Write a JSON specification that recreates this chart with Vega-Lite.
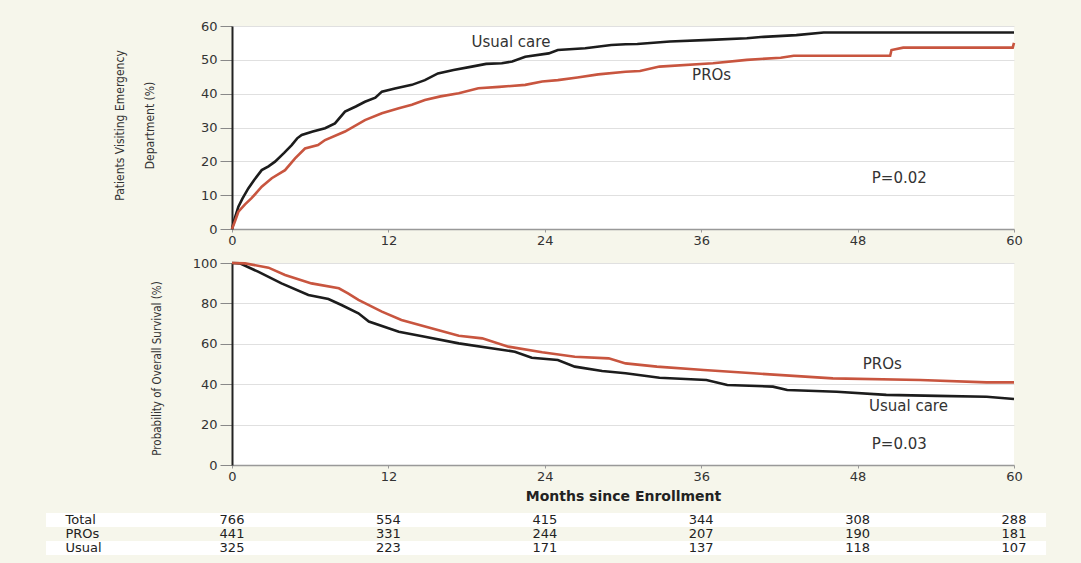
{
  "$schema": "https://vega.github.io/schema/vega-lite/v6.json",
  "background": "#f6f6eb",
  "padding": {"left": 46, "top": 20, "right": 35, "bottom": 8},
  "bounds": "flush",
  "spacing": 34,
  "config": {
    "view": {"fill": "white", "stroke": null},
    "axis": {"labelFont": "DejaVu Sans", "labelFontSize": 13, "labelColor": "#333", "labelOverlap": false, "titleFont": "Liberation Sans Narrow, DejaVu Sans Condensed, sans-serif", "titleColor": "#333", "titleFontWeight": "normal"},
    "text": {"font": "DejaVu Sans"}
  },
  "datasets": {
    "ed": [
      {"g": "Usual care", "m": 0, "v": 0}, {"g": "Usual care", "m": 0.2, "v": 3}, {"g": "Usual care", "m": 0.49, "v": 6.6}, {"g": "Usual care", "m": 0.8, "v": 9}, {"g": "Usual care", "m": 1.25, "v": 12}, {"g": "Usual care", "m": 1.7, "v": 14.5}, {"g": "Usual care", "m": 2.28, "v": 17.4}, {"g": "Usual care", "m": 2.8, "v": 18.5}, {"g": "Usual care", "m": 3.3, "v": 19.9}, {"g": "Usual care", "m": 4.0, "v": 22.5}, {"g": "Usual care", "m": 4.58, "v": 24.8}, {"g": "Usual care", "m": 5.0, "v": 26.8}, {"g": "Usual care", "m": 5.35, "v": 27.8}, {"g": "Usual care", "m": 6.2, "v": 28.8}, {"g": "Usual care", "m": 7.14, "v": 29.8}, {"g": "Usual care", "m": 7.9, "v": 31.2}, {"g": "Usual care", "m": 8.67, "v": 34.7}, {"g": "Usual care", "m": 9.5, "v": 36.2}, {"g": "Usual care", "m": 10.2, "v": 37.6}, {"g": "Usual care", "m": 11.0, "v": 38.8}, {"g": "Usual care", "m": 11.5, "v": 40.6}, {"g": "Usual care", "m": 12.5, "v": 41.5}, {"g": "Usual care", "m": 13.8, "v": 42.6}, {"g": "Usual care", "m": 14.8, "v": 44.0}, {"g": "Usual care", "m": 15.8, "v": 46.0}, {"g": "Usual care", "m": 17.0, "v": 47.0}, {"g": "Usual care", "m": 18.4, "v": 48.0}, {"g": "Usual care", "m": 19.5, "v": 48.8}, {"g": "Usual care", "m": 20.7, "v": 49.0}, {"g": "Usual care", "m": 21.5, "v": 49.5}, {"g": "Usual care", "m": 22.5, "v": 50.9}, {"g": "Usual care", "m": 24.3, "v": 51.9}, {"g": "Usual care", "m": 25.0, "v": 52.9}, {"g": "Usual care", "m": 27.1, "v": 53.4}, {"g": "Usual care", "m": 29.1, "v": 54.4}, {"g": "Usual care", "m": 30.2, "v": 54.6}, {"g": "Usual care", "m": 31.1, "v": 54.7}, {"g": "Usual care", "m": 33.6, "v": 55.4}, {"g": "Usual care", "m": 36.7, "v": 55.9}, {"g": "Usual care", "m": 39.5, "v": 56.4}, {"g": "Usual care", "m": 40.8, "v": 56.8}, {"g": "Usual care", "m": 43.3, "v": 57.3}, {"g": "Usual care", "m": 45.4, "v": 58.1}, {"g": "Usual care", "m": 60, "v": 58.1},
      {"g": "PROs", "m": 0, "v": 0}, {"g": "PROs", "m": 0.2, "v": 2}, {"g": "PROs", "m": 0.49, "v": 5.1}, {"g": "PROs", "m": 1.0, "v": 7.3}, {"g": "PROs", "m": 1.5, "v": 9.1}, {"g": "PROs", "m": 2.28, "v": 12.5}, {"g": "PROs", "m": 3.05, "v": 15.0}, {"g": "PROs", "m": 4.07, "v": 17.4}, {"g": "PROs", "m": 4.84, "v": 20.9}, {"g": "PROs", "m": 5.6, "v": 23.8}, {"g": "PROs", "m": 6.6, "v": 24.8}, {"g": "PROs", "m": 7.14, "v": 26.3}, {"g": "PROs", "m": 8.67, "v": 28.8}, {"g": "PROs", "m": 10.2, "v": 32.2}, {"g": "PROs", "m": 11.5, "v": 34.2}, {"g": "PROs", "m": 12.8, "v": 35.7}, {"g": "PROs", "m": 13.8, "v": 36.7}, {"g": "PROs", "m": 14.8, "v": 38.1}, {"g": "PROs", "m": 16.0, "v": 39.2}, {"g": "PROs", "m": 17.4, "v": 40.1}, {"g": "PROs", "m": 18.9, "v": 41.6}, {"g": "PROs", "m": 20.5, "v": 42.0}, {"g": "PROs", "m": 22.5, "v": 42.6}, {"g": "PROs", "m": 23.8, "v": 43.6}, {"g": "PROs", "m": 25.0, "v": 44.0}, {"g": "PROs", "m": 26.5, "v": 44.8}, {"g": "PROs", "m": 28.1, "v": 45.7}, {"g": "PROs", "m": 30.2, "v": 46.5}, {"g": "PROs", "m": 31.3, "v": 46.7}, {"g": "PROs", "m": 32.8, "v": 48.0}, {"g": "PROs", "m": 36.9, "v": 49.0}, {"g": "PROs", "m": 39.5, "v": 50.0}, {"g": "PROs", "m": 42.1, "v": 50.6}, {"g": "PROs", "m": 43.1, "v": 51.2}, {"g": "PROs", "m": 50.5, "v": 51.2}, {"g": "PROs", "m": 50.6, "v": 52.9}, {"g": "PROs", "m": 51.5, "v": 53.6}, {"g": "PROs", "m": 59.9, "v": 53.6}, {"g": "PROs", "m": 60, "v": 55.0}
    ],
    "os": [
      {"g": "Usual care", "m": 0, "v": 100}, {"g": "Usual care", "m": 0.6, "v": 99.8}, {"g": "Usual care", "m": 2.0, "v": 95.7}, {"g": "Usual care", "m": 3.8, "v": 89.9}, {"g": "Usual care", "m": 5.86, "v": 84.2}, {"g": "Usual care", "m": 7.4, "v": 82.2}, {"g": "Usual care", "m": 8.4, "v": 79.2}, {"g": "Usual care", "m": 9.7, "v": 75.1}, {"g": "Usual care", "m": 10.5, "v": 71.0}, {"g": "Usual care", "m": 12.8, "v": 66.0}, {"g": "Usual care", "m": 14.8, "v": 63.5}, {"g": "Usual care", "m": 17.4, "v": 60.2}, {"g": "Usual care", "m": 19.9, "v": 57.8}, {"g": "Usual care", "m": 21.7, "v": 56.1}, {"g": "Usual care", "m": 23.0, "v": 53.1}, {"g": "Usual care", "m": 25.0, "v": 52.0}, {"g": "Usual care", "m": 26.3, "v": 48.7}, {"g": "Usual care", "m": 28.4, "v": 46.5}, {"g": "Usual care", "m": 30.2, "v": 45.4}, {"g": "Usual care", "m": 32.8, "v": 43.2}, {"g": "Usual care", "m": 36.4, "v": 42.1}, {"g": "Usual care", "m": 38.0, "v": 39.6}, {"g": "Usual care", "m": 41.5, "v": 38.8}, {"g": "Usual care", "m": 42.6, "v": 37.1}, {"g": "Usual care", "m": 46.4, "v": 36.3}, {"g": "Usual care", "m": 50.2, "v": 34.7}, {"g": "Usual care", "m": 54.1, "v": 34.2}, {"g": "Usual care", "m": 57.9, "v": 33.8}, {"g": "Usual care", "m": 60, "v": 32.7},
      {"g": "PROs", "m": 0, "v": 100}, {"g": "PROs", "m": 1.0, "v": 99.8}, {"g": "PROs", "m": 2.8, "v": 97.7}, {"g": "PROs", "m": 4.07, "v": 94.1}, {"g": "PROs", "m": 6.1, "v": 89.9}, {"g": "PROs", "m": 8.2, "v": 87.5}, {"g": "PROs", "m": 8.9, "v": 85.0}, {"g": "PROs", "m": 9.7, "v": 81.7}, {"g": "PROs", "m": 11.5, "v": 75.9}, {"g": "PROs", "m": 13.0, "v": 71.8}, {"g": "PROs", "m": 15.3, "v": 67.7}, {"g": "PROs", "m": 17.4, "v": 64.0}, {"g": "PROs", "m": 19.2, "v": 62.7}, {"g": "PROs", "m": 21.2, "v": 58.6}, {"g": "PROs", "m": 23.8, "v": 55.8}, {"g": "PROs", "m": 26.3, "v": 53.6}, {"g": "PROs", "m": 28.9, "v": 52.8}, {"g": "PROs", "m": 30.2, "v": 50.3}, {"g": "PROs", "m": 32.6, "v": 48.7}, {"g": "PROs", "m": 36.2, "v": 47.0}, {"g": "PROs", "m": 40.0, "v": 45.4}, {"g": "PROs", "m": 46.1, "v": 42.9}, {"g": "PROs", "m": 52.8, "v": 42.1}, {"g": "PROs", "m": 57.9, "v": 40.9}, {"g": "PROs", "m": 60, "v": 40.9}
    ],
    "notes": [
      {"panel": "ed", "m": 21.4, "v": 55.3, "label": "Usual care"},
      {"panel": "ed", "m": 36.8, "v": 45.5, "label": "PROs"},
      {"panel": "ed", "m": 51.2, "v": 15.1, "label": "P=0.02"},
      {"panel": "os", "m": 49.9, "v": 50.0, "label": "PROs"},
      {"panel": "os", "m": 51.9, "v": 29.2, "label": "Usual care"},
      {"panel": "os", "m": 51.2, "v": 10.4, "label": "P=0.03"}
    ],
    "risk": [
      {"row": "Total", "m": 0, "n": 766}, {"row": "Total", "m": 12, "n": 554}, {"row": "Total", "m": 24, "n": 415}, {"row": "Total", "m": 36, "n": 344}, {"row": "Total", "m": 48, "n": 308}, {"row": "Total", "m": 60, "n": 288},
      {"row": "PROs", "m": 0, "n": 441}, {"row": "PROs", "m": 12, "n": 331}, {"row": "PROs", "m": 24, "n": 244}, {"row": "PROs", "m": 36, "n": 207}, {"row": "PROs", "m": 48, "n": 190}, {"row": "PROs", "m": 60, "n": 181},
      {"row": "Usual", "m": 0, "n": 325}, {"row": "Usual", "m": 12, "n": 223}, {"row": "Usual", "m": 24, "n": 171}, {"row": "Usual", "m": 36, "n": 137}, {"row": "Usual", "m": 48, "n": 118}, {"row": "Usual", "m": 60, "n": 107}
    ]
  },
  "vconcat": [
    {
      "width": 782,
      "height": 203,
      "layer": [
        {
          "data": {"name": "ed"},
          "mark": {"type": "line", "strokeWidth": 2.6},
          "encoding": {
            "x": {"field": "m", "type": "quantitative", "scale": {"domain": [0, 60], "nice": false},
              "axis": {"values": [0, 12, 24, 36, 48, 60], "tickCount": 6, "title": null, "grid": false, "domainColor": "#999", "domainWidth": 1.5, "tickColor": "#999", "tickSize": 3, "labelPadding": 2, "labelFlush": false}},
            "y": {"field": "v", "type": "quantitative", "scale": {"domain": [0, 60], "nice": false},
              "axis": {"values": [0, 10, 20, 30, 40, 50, 60], "tickCount": 7, "grid": true, "gridColor": "#e0e0e0", "domainColor": "#222", "domainWidth": 2, "tickColor": "#888", "tickSize": 12, "labelPadding": 3,
                "title": ["Patients Visiting Emergency", "Department (%)"], "titleFontSize": 12, "titleLineHeight": 30, "titleBaseline": "middle", "titleX": -113, "titleY": 99}},
            "color": {"field": "g", "type": "nominal", "scale": {"domain": ["Usual care", "PROs"], "range": ["#1c1c1c", "#c8553f"]}, "legend": null}
          }
        },
        {
          "data": {"name": "notes"},
          "transform": [{"filter": "datum.panel == 'ed'"}],
          "mark": {"type": "text", "fontSize": 15, "color": "#333", "align": "center", "baseline": "middle"},
          "encoding": {
            "x": {"field": "m", "type": "quantitative"},
            "y": {"field": "v", "type": "quantitative"},
            "text": {"field": "label"}
          }
        }
      ]
    },
    {
      "width": 782,
      "height": 202,
      "layer": [
        {
          "data": {"name": "os"},
          "mark": {"type": "line", "strokeWidth": 2.6},
          "encoding": {
            "x": {"field": "m", "type": "quantitative", "scale": {"domain": [0, 60], "nice": false},
              "axis": {"values": [0, 12, 24, 36, 48, 60], "tickCount": 6, "grid": false, "domainColor": "#999", "domainWidth": 1.5, "tickColor": "#999", "tickSize": 3, "labelPadding": 2, "labelFlush": false,
                "title": "Months since Enrollment", "titleFont": "DejaVu Sans", "titleFontWeight": "bold", "titleFontSize": 14, "titlePadding": 6, "titleColor": "#222"}},
            "y": {"field": "v", "type": "quantitative", "scale": {"domain": [0, 100], "nice": false},
              "axis": {"values": [0, 20, 40, 60, 80, 100], "tickCount": 6, "grid": true, "gridColor": "#e0e0e0", "domainColor": "#222", "domainWidth": 2, "tickColor": "#888", "tickSize": 12, "labelPadding": 3,
                "title": "Probability of Overall Survival (%)", "titleFontSize": 11.5, "titleBaseline": "middle", "titleX": -75, "titleY": 105}},
            "color": {"field": "g", "type": "nominal", "scale": {"domain": ["Usual care", "PROs"], "range": ["#1c1c1c", "#c8553f"]}, "legend": null}
          }
        },
        {
          "data": {"name": "notes"},
          "transform": [{"filter": "datum.panel == 'os'"}],
          "mark": {"type": "text", "fontSize": 15, "color": "#333", "align": "center", "baseline": "middle"},
          "encoding": {
            "x": {"field": "m", "type": "quantitative"},
            "y": {"field": "v", "type": "quantitative"},
            "text": {"field": "label"}
          }
        }
      ]
    },
    {
      "width": 782,
      "height": 56,
      "view": {"fill": "transparent", "stroke": null},
      "data": {"name": "risk"},
      "layer": [
        {
          "transform": [{"filter": "datum.m == 0 && datum.row != 'PROs'"}],
          "mark": {"type": "rect", "color": "white"},
          "encoding": {
            "x": {"datum": -14.27, "type": "quantitative", "scale": {"domain": [0, 60], "nice": false}, "axis": null},
            "x2": {"datum": 62.46},
            "y": {"field": "row", "type": "nominal", "scale": {"domain": ["Total", "PROs", "Usual"], "paddingInner": 0, "paddingOuter": 0.5, "align": 1},
              "axis": {"title": null, "domain": false, "ticks": false, "grid": false, "labelAlign": "left", "labelPadding": 167, "labelFontSize": 13, "labelColor": "#222"}}
          }
        },
        {
          "mark": {"type": "text", "fontSize": 13, "color": "#222", "align": "center", "baseline": "middle"},
          "encoding": {
            "x": {"field": "m", "type": "quantitative"},
            "y": {"field": "row", "type": "nominal"},
            "text": {"field": "n"}
          }
        }
      ]
    }
  ]
}
